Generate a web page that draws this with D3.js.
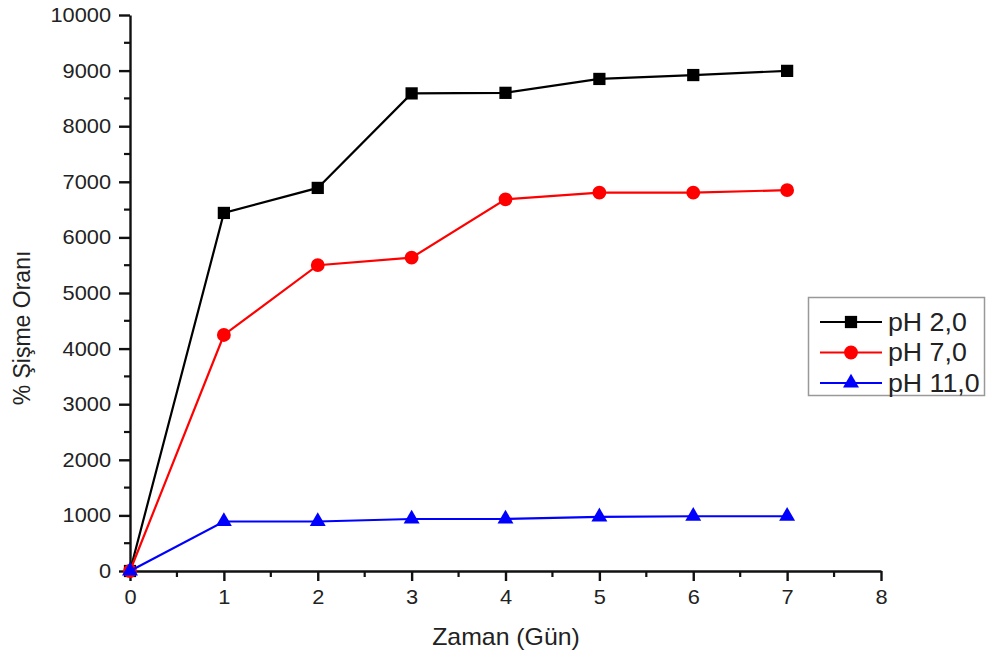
<!DOCTYPE html>
<html><head><meta charset="utf-8">
<script src="https://cdn.jsdelivr.net/npm/d3@7"></script>
<style>body{margin:0;background:#fff}svg{display:block}text{font-family:"Liberation Sans",Arial,sans-serif;fill:#222}</style>
</head><body><svg id="c" width="989" height="663"></svg>
<script>
const days = [0,1,2,3,4,5,6,7];
const pH2 = [0,6440,6890,8590,8600,8850,8920,8995];
const pH7 = [0,4245,5500,5635,6685,6805,6805,6850];
const pH11 = [0,890,890,935,935,975,985,985];
const seriesNames = ["pH 2,0","pH 7,0","pH 11,0"];
const xTicks = [0,1,2,3,4,5,6,7,8];
const yTicks = [0,1000,2000,3000,4000,5000,6000,7000,8000,9000,10000];
const xTitle = "Zaman (Gün)";
const yTitle = "% Şişme Oranı";

const svg = d3.select("#c");
const x = d3.scaleLinear().domain([0,8]).range([130,881]);
const y = d3.scaleLinear().domain([0,10000]).range([571,15]);
const SX = 1.09;

const xMinor = d3.range(0.5,8,1);
const yMinor = d3.range(500,10000,1000);
const gx = svg.append("g").attr("transform","translate(0,571)");
gx.call(d3.axisBottom(x).tickValues(xTicks).tickSize(10).tickSizeOuter(0).tickPadding(9).tickFormat(d3.format("d")));
gx.append("g").selectAll("line").data(xMinor).join("line")
  .attr("x1",d=>x(d)).attr("x2",d=>x(d)).attr("y1",0).attr("y2",6).attr("stroke","#111").attr("stroke-width",2.2);
const gy = svg.append("g").attr("transform","translate(130,0)");
gy.call(d3.axisLeft(y).tickValues(yTicks).tickSize(11).tickSizeOuter(0).tickPadding(8).tickFormat(d3.format("d")));
gy.append("g").selectAll("line").data(yMinor).join("line")
  .attr("y1",d=>y(d)).attr("y2",d=>y(d)).attr("x1",0).attr("x2",-6).attr("stroke","#111").attr("stroke-width",2.2);
[gx,gy].forEach(g=>{
  g.attr("font-size",20);
  g.select(".domain").attr("stroke","#111").attr("stroke-width",2.4);
  g.selectAll(".tick line").attr("stroke","#111").attr("stroke-width",2.4);
  g.selectAll(".tick text").style("font-size","20px").attr("fill","#2a2a2a").style("font-family",'"Liberation Sans",Arial,sans-serif');
});
gx.selectAll(".tick text").attr("transform",`scale(${SX},1)`);
gy.selectAll(".tick text").attr("x",-19/SX).attr("transform",`scale(${SX},1)`);

svg.append("text").attr("x",506).attr("y",645).attr("text-anchor","middle").attr("font-size",23)
  .attr("transform","translate(506,0) scale(1.08,1) translate(-506,0)").text(xTitle);
svg.append("text").attr("transform","translate(30,328) rotate(-90)").attr("text-anchor","middle").attr("font-size",23).text(yTitle);

const series = [
  {name:seriesNames[0], vals:pH2, color:"#000000", shape:d3.symbolSquare, size:150},
  {name:seriesNames[1], vals:pH7, color:"#ff0000", shape:d3.symbolCircle, size:150},
  {name:seriesNames[2], vals:pH11, color:"#0000ff", shape:d3.symbolTriangle, size:110}
];
const line = d3.line().x((d,i)=>x(days[i])).y(d=>y(d));
series.forEach(s=>{
  svg.append("path").datum(s.vals).attr("d",line).attr("fill","none").attr("stroke",s.color).attr("stroke-width",2.2);
  svg.append("g").selectAll("path").data(s.vals).join("path")
    .attr("transform",(d,i)=>`translate(${x(days[i])},${y(d)})`)
    .attr("d",d3.symbol(s.shape,s.size)).attr("fill",s.color);
});

const lg = svg.append("g");
lg.append("rect").attr("x",808.5).attr("y",297.5).attr("width",176).attr("height",98)
  .attr("fill","#fff").attr("stroke","#999").attr("stroke-width",1.5);
series.forEach((s,i)=>{
  const cy = 322 + i*30.5;
  lg.append("line").attr("x1",820).attr("x2",882).attr("y1",cy).attr("y2",cy).attr("stroke",s.color).attr("stroke-width",2.2);
  lg.append("path").attr("transform",`translate(851,${cy})`).attr("d",d3.symbol(s.shape,s.size)).attr("fill",s.color);
  lg.append("text").attr("x",888).attr("y",cy+9).attr("font-size",25)
    .attr("transform",`translate(888,0) scale(1.07,1) translate(-888,0)`).text(s.name);
});
</script></body></html>
